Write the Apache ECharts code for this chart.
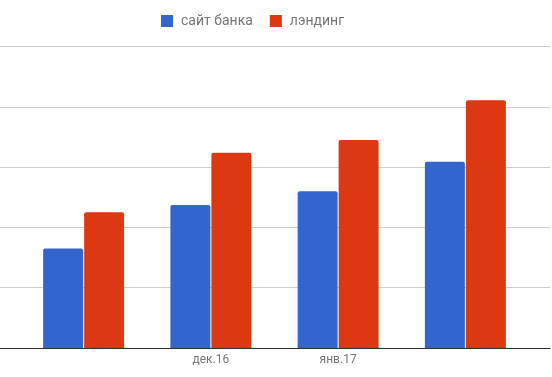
<!DOCTYPE html>
<html>
<head>
<meta charset="utf-8">
<script src="https://cdn.jsdelivr.net/npm/echarts@6/dist/echarts.min.js"></script>
<style>html,body{margin:0;padding:0;background:#fff}#c{width:552px;height:377px}</style>
</head>
<body>
<div id="c"></div>
<script>
const categories = ['', 'дек.16', 'янв.17', ''];
const seriesNames = ['сайт банка', 'лэндинг'];
const siteValues = [165, 237, 260, 309];
const landingValues = [225, 324, 345, 411];
const yMin = 0, yMax = 500, yStep = 100;

const chart = echarts.init(document.getElementById('c'), null, {renderer: 'canvas'});
chart.setOption({
  animation: false,
  color: ['#3366cc', '#dc3912'],
  textStyle: {fontFamily: 'Roboto'},
  legend: {
    data: seriesNames,
    left: 161, top: 14, padding: 0,
    itemWidth: 12, itemHeight: 12, itemGap: 17,
    icon: 'rect',
    textStyle: {fontSize: 14, color: '#757575', fontFamily: 'Roboto', padding: [0, 0, 0, 3]}
  },
  grid: [
    {left: 0, right: 2, top: 46.5, bottom: 29, containLabel: false},
    {left: 20, width: 509, top: 46.5, bottom: 29, containLabel: false}
  ],
  xAxis: [
    {gridIndex: 0, type: 'category', data: [''], axisTick: {show: false}, axisLabel: {show: false},
     axisLine: {lineStyle: {color: '#333', width: 1}}, splitLine: {show: false}},
    {gridIndex: 1, type: 'category', data: categories, axisTick: {show: false}, axisLine: {show: false},
     axisLabel: {color: '#757575', fontSize: 12, margin: 6, fontFamily: 'Roboto'}}
  ],
  yAxis: [
    {gridIndex: 0, type: 'value', min: yMin, max: yMax, interval: yStep, axisLabel: {show: false},
     axisLine: {show: false}, axisTick: {show: false}, splitLine: {lineStyle: {color: '#cccccc', width: 1}}},
    {gridIndex: 1, type: 'value', min: yMin, max: yMax, interval: yStep, show: false, splitLine: {show: false}}
  ],
  series: [
    {name: seriesNames[0], type: 'bar', xAxisIndex: 1, yAxisIndex: 1, data: siteValues,
     barWidth: 40, barGap: '2.5%', itemStyle: {borderRadius: [2, 2, 0, 0]}},
    {name: seriesNames[1], type: 'bar', xAxisIndex: 1, yAxisIndex: 1, data: landingValues,
     barWidth: 40, barGap: '2.5%', itemStyle: {borderRadius: [2, 2, 0, 0]}}
  ]
});
</script>
</body>
</html>
